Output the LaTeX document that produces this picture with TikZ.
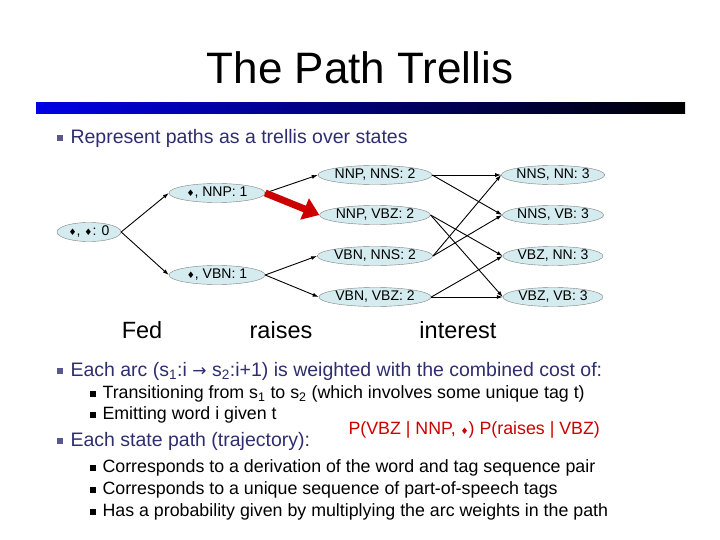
\documentclass[tikz,border=0pt]{standalone}
\usepackage{fontspec}
\setmainfont{Liberation Sans}
\newfontfamily\djv{DejaVu Sans}
\usetikzlibrary{shapes.geometric,arrows.meta}
\definecolor{txt}{HTML}{2E2E6E}
\definecolor{nodefill}{HTML}{D4EBEF}
\definecolor{redarr}{HTML}{CC0000}
\newcommand{\dm}{{\djv\small ♦}}
\tikzset{
  st/.style={ellipse,draw=black!50,fill=nodefill,inner sep=0pt,minimum height=19pt,font=\fontsize{14}{14}\selectfont},
  ar/.style={-{Latex[length=6pt,width=4pt]},line width=0.9pt},
  bl/.style={anchor=west,text=txt,font=\fontsize{19.5}{19.5}\selectfont},
  sb/.style={anchor=west,text=black,font=\fontsize{17.8}{17.8}\selectfont},
  sq/.style={fill=txt!80,minimum size=6pt,inner sep=0pt},
  wd/.style={font=\fontsize{23.5}{23.5}\selectfont}
}
\begin{document}
\begin{tikzpicture}[x=1pt,y=-1pt]
\useasboundingbox (0,0) rectangle (720,540);
\node[font=\fontsize{44}{44}\selectfont] (title) at (360,68) {The Path Trellis};
\shade[left color=blue!90!black,right color=black] (36,103) rectangle (685,114);
\node[sq] (b1) at (60,138) {}; \node[bl] (t1) at (67,138) {Represent paths as a trellis over states};
% nodes
\node[st,minimum width=64pt] (s0) at (89,232) {\dm, \dm: 0};
\node[st,minimum width=96pt] (a1) at (217,193) {\dm, NNP: 1};
\node[st,minimum width=96pt] (b1n) at (217,275) {\dm, VBN: 1};
\node[st,minimum width=104pt] (c1) at (375,175) {NNP, NNS: 2};
\node[st,minimum width=104pt] (c2) at (375,215) {NNP, VBZ: 2};
\node[st,minimum width=104pt] (c3) at (375,256) {VBN, NNS: 2};
\node[st,minimum width=104pt] (c4) at (375,297) {VBN, VBZ: 2};
\node[st,minimum width=100pt] (d1) at (553,175) {NNS, NN: 3};
\node[st,minimum width=100pt] (d2) at (553,215) {NNS, VB: 3};
\node[st,minimum width=100pt] (d3) at (553,256) {VBZ, NN: 3};
\node[st,minimum width=100pt] (d4) at (553,297) {VBZ, VB: 3};
\draw[ar] (s0.east) -- (a1.west);
\draw[ar] (s0.east) -- (b1n.west);
\draw[ar] (a1.east) -- (c1.west);
\draw[ar] (b1n.east) -- (c3.west);
\draw[ar] (b1n.east) -- (c4.west);
\draw[-{Triangle[length=16pt,width=22pt]},line width=7pt,redarr] (a1.east) -- (c2.west);
\foreach \s/\t in {c1/d1,c1/d2,c2/d3,c2/d4,c3/d1,c3/d2,c4/d3,c4/d4}
  \draw[ar] (\s.east) -- (\t.west);
\node[wd] (w1) at (142,330) {Fed};
\node[wd] (w2) at (281,330) {raises};
\node[wd] (w3) at (458,330) {interest};
% text
\node[sq] (b2) at (60,371) {}; \node[bl] (t2) at (67,371) {Each arc (s\textsubscript{1}:i {\djv\fontsize{17}{17}\selectfont →} s\textsubscript{2}:i+1) is weighted with the combined cost of:};
\node[sq,fill=black] (b3) at (93,394) {}; \node[sb] (t3) at (99,394) {Transitioning from s\textsubscript{1} to s\textsubscript{2} (which involves some unique tag t)};
\node[sq,fill=black] (b4) at (93,415) {}; \node[sb] (t4) at (99,415) {Emitting word i given t};
\node[sb,text=redarr] (red) at (345,430) {P(VBZ | NNP, \dm) P(raises | VBZ)};
\node[sq] (b5) at (60,441) {}; \node[bl] (t5) at (67,441) {Each state path (trajectory):};
\node[sq,fill=black] (b6) at (93,468) {}; \node[sb] (t6) at (99,468) {Corresponds to a derivation of the word and tag sequence pair};
\node[sq,fill=black] (b7) at (93,490) {}; \node[sb] (t7) at (99,490) {Corresponds to a unique sequence of part-of-speech tags};
\node[sq,fill=black] (b8) at (93,512) {}; \node[sb] (t8) at (99,512) {Has a probability given by multiplying the arc weights in the path};
\end{tikzpicture}
\end{document}
